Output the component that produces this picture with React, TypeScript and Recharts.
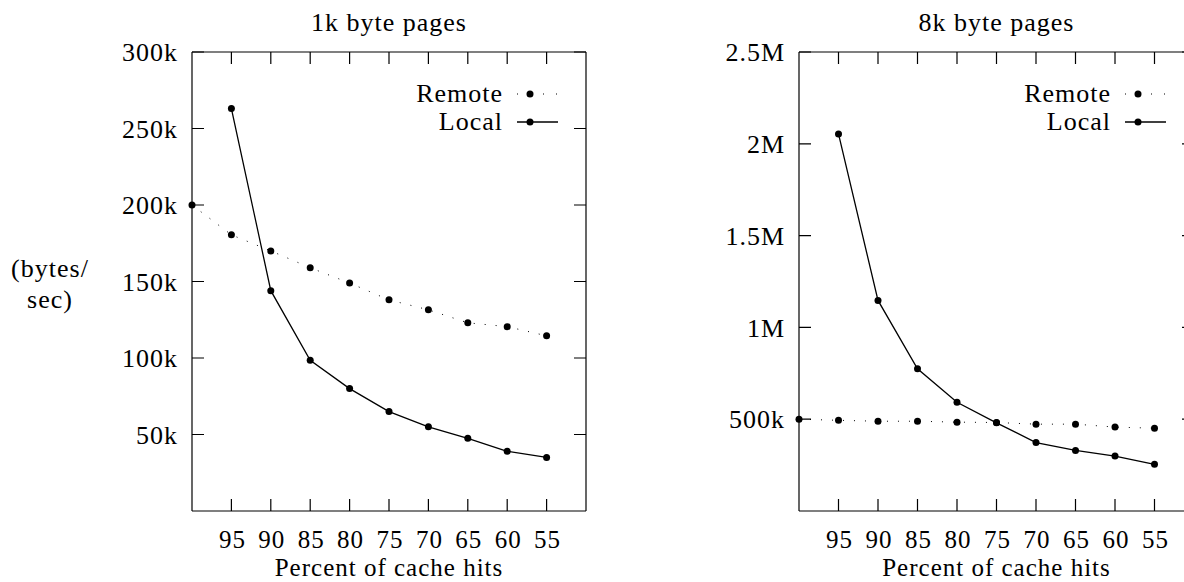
import React from 'react';
import { LineChart, Line, XAxis, YAxis, ReferenceLine } from 'recharts';

// x: percent of cache hits (axis runs 100 -> 50)
const pct = [100, 95, 90, 85, 80, 75, 70, 65, 60, 55];
const xTicks = [95, 90, 85, 80, 75, 70, 65, 60, 55];

// 1k byte pages (bytes/sec)
const remote1k = [200000, 180500, 170000, 159000, 149000, 138000, 131500, 123000, 120500, 114500];
const local1k = [null, 263000, 144000, 98500, 80000, 65000, 55000, 47500, 39000, 35000];
const yTicks1k = [50000, 100000, 150000, 200000, 250000, 300000];

// 8k byte pages (bytes/sec)
const remote8k = [500000, 494000, 489000, 489000, 484000, 482000, 473000, 473000, 457000, 451000];
const local8k = [null, 2054000, 1147000, 775000, 592000, 480000, 373000, 330000, 299000, 254000];
const yTicks8k = [500000, 1000000, 1500000, 2000000, 2500000];

const FONT = '"Liberation Serif", "Times New Roman", serif';
const W = 600;
const H = 582;
const TOP = 52;
const BOTTOM = 511;
const TICK = 12;
const SW = 1.2;

const build = (remote: (number | null)[], local: (number | null)[]) =>
  pct.map((p, i) => ({ pct: p, remote: remote[i], local: local[i] }));

const fmtK = (v: number) => `${v / 1000}k`;
const fmtM = (v: number) => (v >= 1000000 ? `${v / 1000000}M` : `${v / 1000}k`);

interface PanelProps {
  title: string;
  data: { pct: number; remote: number | null; local: number | null }[];
  yMax: number;
  yTicks: number[];
  fmt: (v: number) => string;
  plotLeft: number;
  plotRight: number;
  yLabel?: boolean;
}

const Panel: React.FC<PanelProps> = ({ title, data, yMax, yTicks, fmt, plotLeft, plotRight, yLabel }) => {
  const legEnd = plotRight - 28;
  const legStart = legEnd - 41;
  const legDot = legStart + 13;
  const axisStyle = { stroke: '#000', strokeWidth: SW };

  // inward ticks on both sides of the frame
  const yTick = (props: any) => {
    const { y, payload } = props;
    return (
      <g>
        <path d={`M${plotLeft},${y}h${TICK}M${plotRight - TICK},${y}h${TICK}`} stroke="#000" strokeWidth={SW} fill="none" />
        <text x={plotLeft - 14} y={y} dy="0.355em" textAnchor="end" fill="#000">
          {fmt(payload.value)}
        </text>
      </g>
    );
  };

  const xTick = (props: any) => {
    const { x, payload } = props;
    return (
      <g>
        <path d={`M${x},${BOTTOM}v${-TICK}M${x},${TOP}v${TICK}`} stroke="#000" strokeWidth={SW} fill="none" />
        <text x={x + 1} y={548} textAnchor="middle" fill="#000" fontSize={25}>
          {payload.value}
        </text>
      </g>
    );
  };

  return (
    <div style={{ position: 'relative', width: W, height: H }}>
      <LineChart width={W} height={H} data={data} margin={{ top: TOP, right: W - plotRight, bottom: 0, left: 0 }}>
        <XAxis
          dataKey="pct"
          type="number"
          domain={[50, 100]}
          reversed
          ticks={xTicks}
          interval={0}
          height={H - BOTTOM}
          axisLine={axisStyle}
          tickLine={false}
          tick={xTick}
          label={{ value: 'Percent of cache hits', position: 'insideBottom', offset: 6, fill: '#000', fontSize: 25 }}
        />
        <YAxis
          type="number"
          domain={[0, yMax]}
          ticks={yTicks}
          interval={0}
          width={plotLeft}
          axisLine={axisStyle}
          tickLine={false}
          tick={yTick}
        />
        <ReferenceLine x={50} stroke="#000" strokeWidth={SW} ifOverflow="extendDomain" />
        <ReferenceLine y={yMax} stroke="#000" strokeWidth={SW} ifOverflow="extendDomain" />
        <Line
          type="linear"
          dataKey="remote"
          stroke="#000"
          strokeWidth={1}
          strokeDasharray="1 10"
          dot={{ r: 3.5, fill: '#000', stroke: 'none' }}
          isAnimationActive={false}
        />
        <Line
          type="linear"
          dataKey="local"
          stroke="#000"
          strokeWidth={1.3}
          dot={{ r: 3.5, fill: '#000', stroke: 'none' }}
          isAnimationActive={false}
        />
      </LineChart>
      <svg width={W} height={H} style={{ position: 'absolute', left: 0, top: 0, pointerEvents: 'none' }}>
        <text x={(plotLeft + plotRight) / 2} y={31} textAnchor="middle" fill="#000">{title}</text>
        <text x={legStart - 14} y={102} textAnchor="end" fill="#000">Remote</text>
        <line x1={legStart} x2={legEnd} y1={94} y2={94} stroke="#000" strokeDasharray="1 12" />
        <circle cx={legDot} cy={94} r={3.5} fill="#000" />
        <text x={legStart - 14} y={130} textAnchor="end" fill="#000">Local</text>
        <line x1={legStart} x2={legEnd} y1={122} y2={122} stroke="#000" strokeWidth={1.3} />
        <circle cx={legDot} cy={122} r={3.5} fill="#000" />
        {yLabel && (
          <text textAnchor="middle" fill="#000">
            <tspan x={50} y={277}>(bytes/</tspan>
            <tspan x={50} y={308}>sec)</tspan>
          </text>
        )}
      </svg>
    </div>
  );
};

export default function App() {
  return (
    <div
      style={{
        position: 'absolute',
        left: 0,
        top: 0,
        width: 1184,
        height: 582,
        overflow: 'hidden',
        background: '#fff',
        fontFamily: FONT,
        fontSize: 26,
        letterSpacing: '1px',
      }}
    >
      <div style={{ position: 'absolute', left: 0, top: 0 }}>
        <Panel
          title="1k byte pages"
          data={build(remote1k, local1k)}
          yMax={300000}
          yTicks={yTicks1k}
          fmt={fmtK}
          plotLeft={192}
          plotRight={586}
          yLabel
        />
      </div>
      <div style={{ position: 'absolute', left: 600, top: 0 }}>
        <Panel
          title="8k byte pages"
          data={build(remote8k, local8k)}
          yMax={2500000}
          yTicks={yTicks8k}
          fmt={fmtM}
          plotLeft={199}
          plotRight={594}
        />
      </div>
    </div>
  );
}
